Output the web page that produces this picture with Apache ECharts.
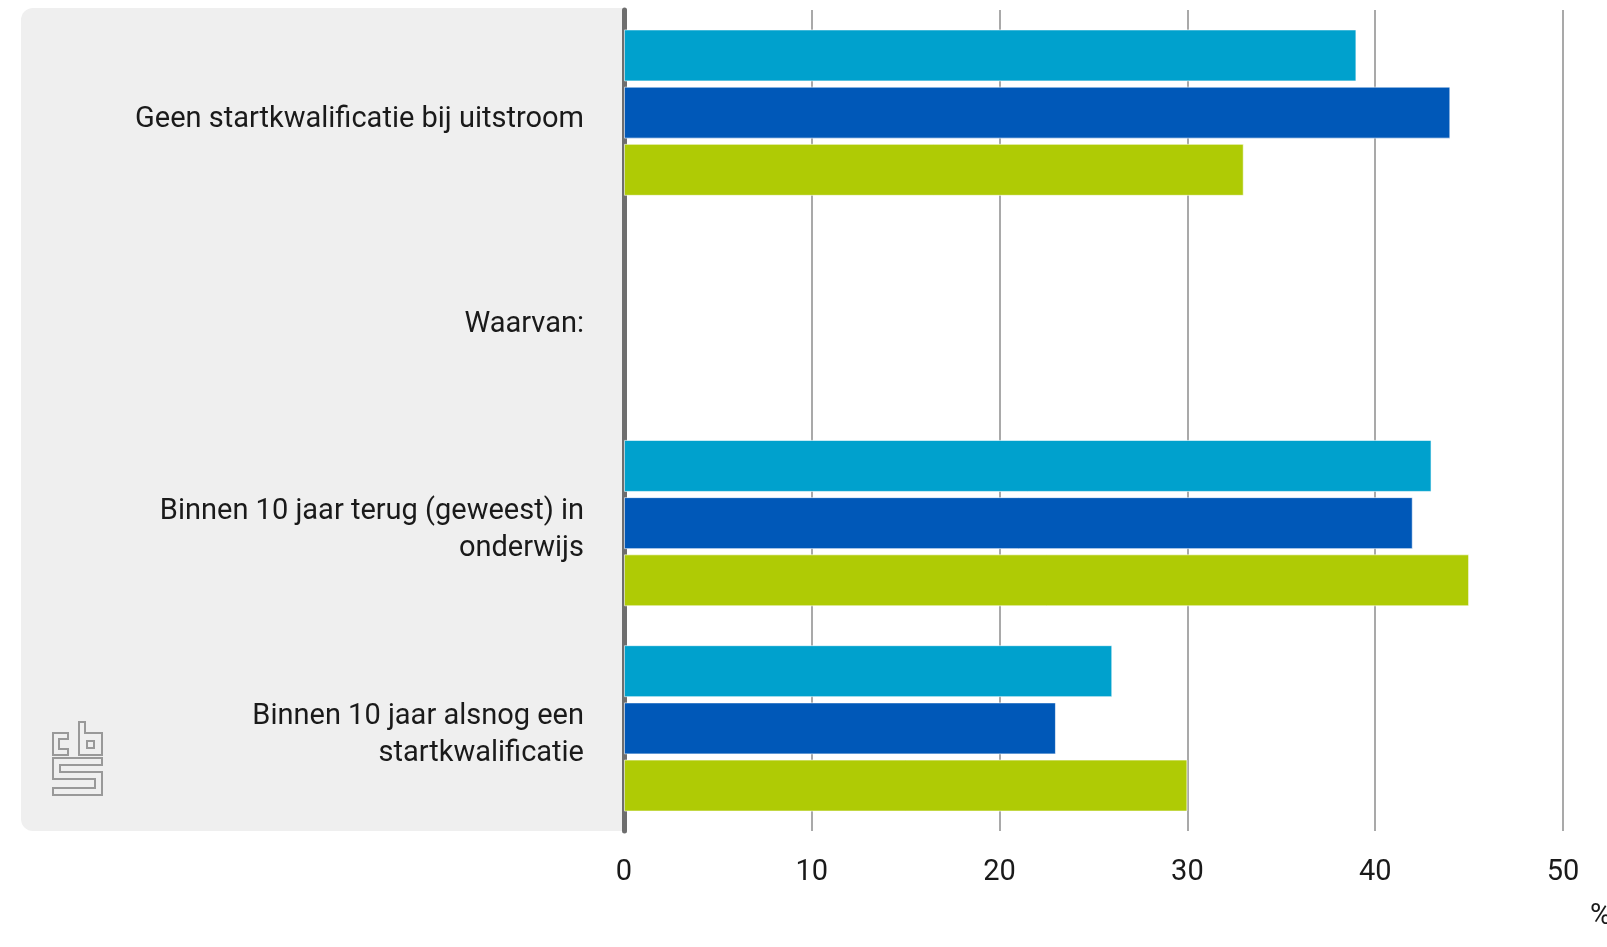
<!DOCTYPE html>
<html>
<head>
<meta charset="utf-8">
<script src="https://cdn.jsdelivr.net/npm/echarts@6/dist/echarts.min.js"></script>
<style>
html,body{margin:0;padding:0;background:#fff;}
#chart{width:1607px;height:947px;}
</style>
</head>
<body>
<div id="chart"></div>
<script>
const categories = [
  "Geen startkwalificatie bij uitstroom",
  "Waarvan:",
  "Binnen 10 jaar terug (geweest) in\nonderwijs",
  "Binnen 10 jaar alsnog een\nstartkwalificatie"
];
const seriesNames = ["Reeks 1", "Reeks 2", "Reeks 3"];
const series1 = [39, null, 43, 26];
const series2 = [44, null, 42, 23];
const series3 = [33, null, 45, 30];
const xTicks = { min: 0, max: 50, interval: 10 };
const unitLabel = "%";

const colors = ["#00a1cd", "#0058b8", "#afcb05"];
const font = "Roboto";

const chart = echarts.init(document.getElementById('chart'));
const mk = (name, data, i) => ({
  name, type: 'bar', data,
  barWidth: 52, barGap: '10%',
  itemStyle: { color: colors[i], borderColor: 'rgba(255,255,255,0.6)', borderWidth: 1 },
  z: 3
});
const logoStyle = { fill: 'none', stroke: '#999999', lineWidth: 2 };
chart.setOption({
  animation: false,
  textStyle: { fontFamily: font },
  grid: { left: 624, right: 44, top: 10, bottom: 116, containLabel: false },
  graphic: [
    { type: 'rect', z: -10, silent: true,
      shape: { x: 21, y: 8, width: 606, height: 823, r: [12, 0, 0, 12] },
      style: { fill: '#efefef' } },
    { type: 'text', z: 10, left: 1590, top: 902,
      style: { text: unitLabel, font: '29px ' + font, fill: '#1a1a1a' } },
    { type: 'group', z: 5, children: [
      { type: 'polygon', shape: { points: [[68,733],[53,733],[53,755],[68,755],[68,749],[59,749],[59,739],[68,739]] }, style: logoStyle },
      { type: 'polygon', shape: { points: [[79,722],[85,722],[85,733],[102,733],[102,755],[79,755]] }, style: logoStyle },
      { type: 'rect', shape: { x: 87, y: 741, width: 7, height: 7 }, style: logoStyle },
      { type: 'polygon', shape: { points: [[53,758],[102,758],[102,765],[60,765],[60,772],[102,772],[102,795],[53,795],[53,788],[95,788],[95,779],[53,779]] }, style: logoStyle }
    ]}
  ],
  xAxis: {
    type: 'value', min: xTicks.min, max: xTicks.max, interval: xTicks.interval,
    axisLine: { show: false },
    axisTick: { show: false },
    axisLabel: { fontSize: 29, color: '#1a1a1a', margin: 27, fontFamily: font },
    splitLine: { show: true, lineStyle: { color: '#8c8c8c', width: 1.5 } }
  },
  yAxis: {
    type: 'category', data: categories, inverse: true,
    axisLine: { show: true, lineStyle: { color: '#6e6e6e', width: 5 } },
    axisTick: { show: false },
    axisLabel: {
      fontSize: 29, color: '#1a1a1a', margin: 40, align: 'right', lineHeight: 37, fontFamily: font,
      formatter: v => '{p|}\n' + v,
      rich: { p: { height: 14, lineHeight: 14, fontSize: 10 } }
    }
  },
  series: [
    mk(seriesNames[0], series1, 0),
    mk(seriesNames[1], series2, 1),
    mk(seriesNames[2], series3, 2)
  ]
});
</script>
</body>
</html>
